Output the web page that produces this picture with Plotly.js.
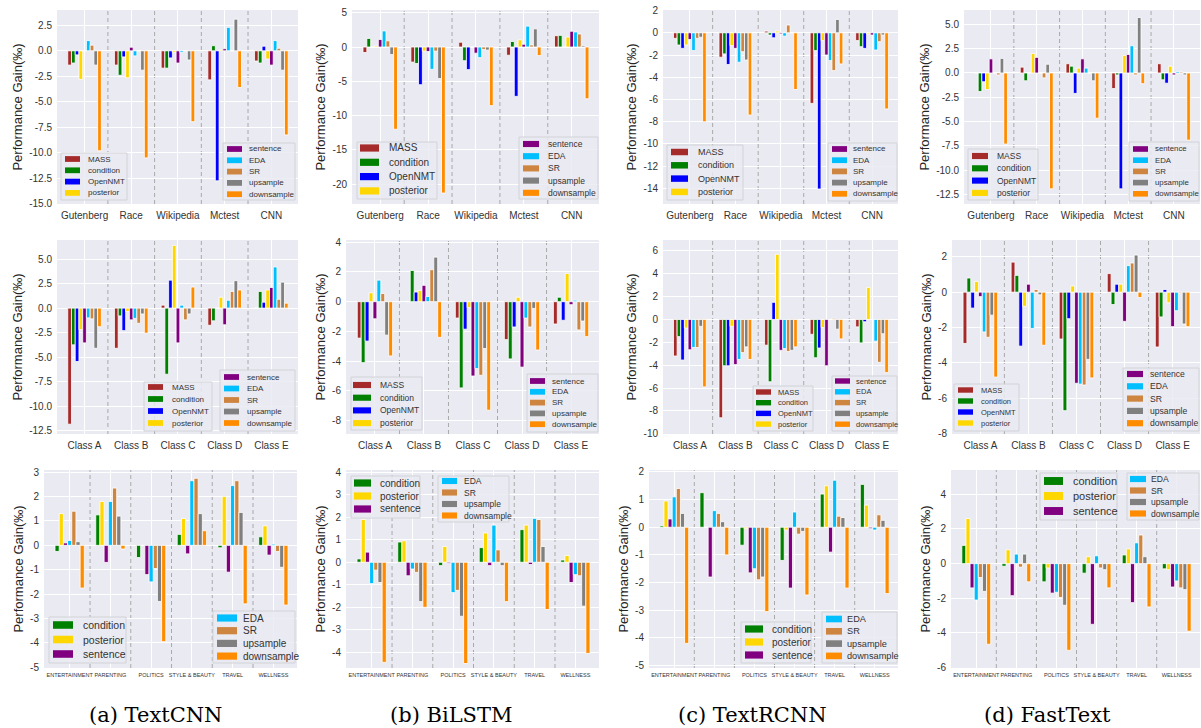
<!DOCTYPE html>
<html><head><meta charset="utf-8">
<script src="https://cdn.plot.ly/plotly-3.0.1.min.js"></script>
<style>html,body{margin:0;padding:0;background:#fff}#chart{width:1201px;height:728px}</style>
</head><body><div id="chart"></div>
<script>
// ---------- series, categories, colours ----------
const seriesAll  = ['MASS','condition','OpenNMT','posterior','sentence','EDA','SR','upsample','downsample'];
const seriesNews = ['condition','posterior','sentence','EDA','SR','upsample','downsample'];
const legendLeftAll   = ['MASS','condition','OpenNMT','posterior'];
const legendRightAll  = ['sentence','EDA','SR','upsample','downsample'];
const legendLeftNews  = ['condition','posterior','sentence'];
const legendRightNews = ['EDA','SR','upsample','downsample'];
const colors = {MASS:'#A52A2A', condition:'#008000', OpenNMT:'#0000FF', posterior:'#FFD700',
  sentence:'#800080', EDA:'#00BFFF', SR:'#CD853F', upsample:'#808080', downsample:'#FF8C00'};

const catsQA    = ['Gutenberg','Race','Wikipedia','Mctest','CNN'];
const catsClass = ['Class A','Class B','Class C','Class D','Class E'];
const catsNews  = ['ENTERTAINMENT','PARENTING','POLITICS','STYLE & BEAUTY','TRAVEL','WELLNESS'];
const captions  = ['(a) TextCNN','(b) BiLSTM','(c) TextRCNN','(d) FastText'];
const yTitle = 'Performance Gain(‰)';

// ---------- values (rows = series in order, columns = categories) ----------
const textCNN_QA = [
  [-1.4,-1.4,-1.7,-2.85,-1.0],
  [-1.2,-2.4,-1.7,0.5,-1.2],
  [-0.4,-0.6,-0.7,-12.75,0.45],
  [-2.8,-2.65,-0.15,0.1,-0.8],
  [0,0.35,-1.2,0.2,-1.4],
  [1.0,-0.5,-0.15,2.3,1.0],
  [0.55,0,0,0,0.25],
  [-1.4,-1.9,-0.9,3.1,-1.9],
  [-9.8,-10.5,-6.95,-3.6,-8.25]];
const biLSTM_QA = [
  [-0.8,-2.2,0.7,-1.2,1.65],
  [1.25,-2.4,-2.0,0.8,1.7],
  [0,-5.5,-3.3,-7.2,0],
  [0.15,-0.6,0,1.05,1.45],
  [1.1,-0.65,-0.9,0.4,2.3],
  [2.35,-3.25,-1.55,3.05,2.2],
  [0.9,-0.6,-0.35,0.3,1.9],
  [-1.1,-4.6,-0.45,2.65,0.2],
  [-12.0,-21.3,-8.55,-1.25,-7.55]];
const textRCNN_QA = [
  [-0.5,-2.2,0.15,-6.35,-0.7],
  [-1.1,-1.9,-0.2,-1.6,-1.25],
  [-1.4,-2.85,-0.45,-14.05,-1.4],
  [-1.1,-1.15,0.15,-0.7,-0.1],
  [-0.6,-1.4,-0.1,-2.0,-0.2],
  [-1.6,-2.65,-0.3,-2.5,-1.55],
  [-0.5,-1.7,0.7,-3.4,-0.8],
  [-0.4,-2.45,0,1.2,-0.2],
  [-8.0,-7.4,-5.1,-2.8,-6.85]];
const fastText_QA = [
  [0,0.6,0.95,-1.6,0.95],
  [-1.9,-0.8,0.7,-0.2,-0.7],
  [-0.9,0,-2.1,-11.9,-1.05],
  [-1.7,2.0,0.5,1.8,0.7],
  [1.45,1.6,1.45,1.9,-0.2],
  [0,0,0.5,2.8,0.15],
  [-0.2,-0.5,0,-0.2,0.1],
  [1.5,0.9,-0.8,5.7,-0.2],
  [-7.3,-11.9,-4.65,-1.1,-6.9]];
const textCNN_Class = [
  [-11.85,-4.1,0.3,-1.75,0],
  [-3.75,-0.8,-6.75,-1.3,1.7],
  [-5.45,-2.3,2.85,0,0.6],
  [-2.2,-0.35,6.4,1.1,1.85],
  [-3.55,-1.2,-3.55,-1.7,2.1],
  [-1.0,-1.05,0.3,0.8,4.2],
  [-1.1,-1.55,-1.2,1.7,0.9],
  [-4.1,-0.6,-0.6,2.8,2.65],
  [-1.9,-2.55,2.15,1.85,0.5]];
const biLSTM_Class = [
  [-2.45,0,-1.1,-2.55,-1.5],
  [-4.1,2.1,-5.8,-3.85,0.3],
  [-2.65,0.65,-1.85,-1.7,-1.25],
  [0.6,0.75,-0.4,0.3,1.9],
  [-1.15,1.1,-5.0,-4.4,-0.2],
  [1.45,0.35,-4.5,-1.1,0.1],
  [0.55,2.15,-4.95,-1.7,-1.9],
  [-2.25,3.0,-3.15,-0.45,-1.3],
  [-3.65,-2.4,-7.3,-3.25,-2.35]];
const textRCNN_Class = [
  [-3.2,-8.6,-2.25,-1.3,-0.65],
  [-1.5,-4.05,-5.45,-3.35,-2.05],
  [-3.55,-4.05,1.5,-2.5,-0.2],
  [-0.75,-0.6,5.7,-0.7,2.8],
  [-2.65,-3.95,-2.7,-4.05,0],
  [-2.45,-3.5,-2.55,0,-1.9],
  [-2.45,-2.9,-2.8,0.1,-3.75],
  [-0.6,-2.4,-2.7,-0.85,-1.25],
  [-5.9,-3.5,-2.4,-1.7,-4.65]];
const fastText_Class = [
  [-2.9,1.7,-2.65,1.05,-3.1],
  [0.8,0.95,-6.7,-0.7,-1.4],
  [-0.9,-3.05,-1.5,0.45,0.15],
  [0.6,-0.8,0.35,0.45,-0.6],
  [-0.25,0.45,-5.15,-1.65,-1.95],
  [-2.25,-2.05,-5.2,1.5,-1.05],
  [-2.55,0.15,-5.25,1.65,-0.05],
  [-1.3,-0.15,-3.8,2.1,-1.8],
  [-4.8,-3.0,-4.85,-0.3,-1.95]];
const textCNN_News = [
  [-0.25,1.25,-0.5,0.45,-0.1,0.35],
  [1.3,1.8,0,1.1,2.0,0.8],
  [0.1,-0.7,-1.2,-0.35,-1.1,-0.4],
  [0.2,1.8,-1.5,2.65,2.45,0.05],
  [1.4,2.35,-0.95,2.75,2.65,-0.25],
  [0.15,1.2,-2.3,1.3,1.35,-0.9],
  [-1.75,-0.15,-3.95,0.6,-2.4,-2.45]];
const biLSTM_News = [
  [0.15,0.9,-0.15,0.65,1.45,0.1],
  [1.9,0.95,0.7,1.3,1.65,0.3],
  [0.45,-0.6,-0.05,-0.15,-0.1,-0.9],
  [-0.95,-0.3,-1.35,1.65,1.95,-0.55],
  [-0.35,-0.45,-1.25,0.55,1.9,-0.6],
  [-0.9,-1.75,-2.4,-0.15,0.7,-1.95],
  [-4.45,-2.0,-4.5,-1.75,-2.1,-4.05]];
const textRCNN_News = [
  [0.05,1.25,-0.65,-1.2,1.2,1.55],
  [0.95,0,-0.05,-0.1,1.5,0.8],
  [0.3,-1.8,-1.65,-2.2,-0.9,-0.05],
  [1.1,0.6,-1.5,0.55,1.7,-0.1],
  [1.4,0.5,-1.9,-0.25,0.4,0.45],
  [0.5,0.2,-1.8,-0.15,0.35,0.25],
  [-4.2,-1.0,-3.05,-2.45,-2.2,-2.4]];
const fastText_News = [
  [1.05,-0.15,-1.05,-0.55,0.5,-0.3],
  [2.6,0.8,-0.25,0.4,0.85,-0.35],
  [-1.4,-1.85,-1.7,-3.5,-2.25,-1.35],
  [-2.1,0.55,-1.65,0.45,1.2,-1.0],
  [-0.8,-0.2,-1.95,-0.25,1.65,-1.4],
  [-1.6,0.55,-2.4,-0.35,0.4,-1.5],
  [-4.65,-1.05,-5.0,-1.4,-2.5,-3.9]];

// ---------- layout helpers ----------
const W = 1201, H = 728;
const FONT = 'Liberation Sans, Arial, sans-serif';
const px = v => v / W, py = v => 1 - v / H;

// panel layout: x/y domains in pixels, y range, tick step, decimals, legends
// legend spec: [left, top, right, bottom, firstRowY, rowStep, swatchX, swatchW, textX, fontSize]
const panels = [
  {data:textCNN_QA, cats:catsQA, ser:seriesAll, xd:[57,298], yd:[10,204], yr:[-15.02,4.0], dt:2.5, dec:1,
   lg:[[61,153,127,200,159,11.3,65,15,87,8],[223,143,295,200,149,11.3,227,15,248,8]]},
  {data:biLSTM_QA, cats:catsQA, ser:seriesAll, xd:[352,599], yd:[10,204], yr:[-22.9,5.4], dt:5, dec:0,
   lg:[[357,142,437,199,148,14.3,360,19,388,10],[519,137,598,199,144,12.2,523,16,547,8.5]]},
  {data:textRCNN_QA, cats:catsQA, ser:seriesAll, xd:[663,898], yd:[10,204], yr:[-15.4,2.05], dt:2, dec:0,
   lg:[[667,145,743,200,152,13.3,671,17,697,9],[828,143,897,201,149,11.2,832,15,852,8]]},
  {data:fastText_QA, cats:catsQA, ser:seriesAll, xd:[964,1200], yd:[10,204], yr:[-13.46,6.47], dt:2.5, dec:1,
   lg:[[968,149,1038,200,156,12.3,972,16,996,8.5],[1129,142,1199,201,149,11.2,1133,15,1154,7.8]]},
  {data:textCNN_Class, cats:catsClass, ser:seriesAll, xd:[57,298], yd:[240,434], yr:[-12.85,6.95], dt:2.5, dec:1,
   lg:[[144,382,212,431,387,12,148,15,171,8],[220,370,295,431,377,11.5,224,15,246,8]]},
  {data:biLSTM_Class, cats:catsClass, ser:seriesAll, xd:[346,599], yd:[240,434], yr:[-8.9,4.15], dt:2, dec:0,
   lg:[[351,377,422,430,385,12.7,353,18,379,8.5],[527,374,598,432,381,10.8,530,15,551,8]]},
  {data:textRCNN_Class, cats:catsClass, ser:seriesAll, xd:[663,898], yd:[240,434], yr:[-10.02,6.95], dt:2, dec:0,
   lg:[[753,386,813,431,392,10.7,756,15,777,7.5],[832,376,897,431,381,10.8,835,15,855,7.5]]},
  {data:fastText_Class, cats:catsClass, ser:seriesAll, xd:[952,1200], yd:[240,434], yr:[-8.02,2.95], dt:2, dec:0,
   lg:[[954,384,1019,431,390,11,958,15,980,7.5],[1123,368,1199,431,374,12.3,1127,16,1149,8.6]]},
  {data:textCNN_News, cats:catsNews, ser:seriesNews, xd:[44,297], yd:[470,668], yr:[-5.03,3.09], dt:1, dec:0,
   lg:[[49,617,126,663,625,14.5,53,20,82,10.5],[213,611,295,663,618,12.7,217,20,242,10]]},
  {data:biLSTM_News, cats:catsNews, ser:seriesNews, xd:[346,599], yd:[470,668], yr:[-4.7,4.1], dt:1, dec:0,
   lg:[[351,476,420,518,483,13,354,17,379,10],[438,476,509,522,481,11.5,442,15,463,8.5]]},
  {data:textRCNN_News, cats:catsNews, ser:seriesNews, xd:[649,898], yd:[470,668], yr:[-5.09,2.07], dt:1, dec:0,
   lg:[[741,622,811,663,629,13,745,18,771,10],[822,612,897,663,619,12.3,826,16,846,9.2]]},
  {data:fastText_News, cats:catsNews, ser:seriesNews, xd:[951,1200], yd:[470,668], yr:[-6.02,5.4], dt:2, dec:0,
   lg:[[1040,473,1117,520,481,15,1044,19,1072,11],[1127,473,1199,520,479,11.5,1130,16,1150,8.6]]}
];

const traces = [], shapes = [], annotations = [];
const layout = {
  width: W, height: H, margin:{l:0,r:0,t:0,b:0},
  paper_bgcolor:'#ffffff', plot_bgcolor:'#EAEAF2',
  barmode:'group', bargap:0.28, bargroupgap:0, showlegend:false,
  font:{family:FONT, color:'#333333'}
};

function addLegend(L, names){
  const [l,t,r,b,row0,step,swX,swW,tx,fs] = L;
  shapes.push({type:'rect', xref:'paper', yref:'paper', x0:px(l), x1:px(r), y0:py(b), y1:py(t),
    fillcolor:'rgba(234,234,242,0.85)', line:{color:'#d2d2d8', width:1}, layer:'above'});
  const hh = fs * 0.36;
  names.forEach((n,i) => {
    const yc = row0 + i*step;
    shapes.push({type:'rect', xref:'paper', yref:'paper', x0:px(swX), x1:px(swX+swW), y0:py(yc+hh), y1:py(yc-hh),
      fillcolor:colors[n], line:{width:0}, layer:'above'});
    annotations.push({xref:'paper', yref:'paper', x:px(tx-1), y:py(yc), xanchor:'left', yanchor:'middle',
      text:n, showarrow:false, font:{size:fs, color:'#333333', family:FONT}});
  });
}

panels.forEach((p, i) => {
  const k = i + 1, sx = k === 1 ? '' : String(k);
  const n = p.cats.length;
  p.ser.forEach((s, j) => {
    traces.push({type:'bar', name:s, x:p.cats, y:p.data[j], xaxis:'x'+sx, yaxis:'y'+sx,
      marker:{color:colors[s], line:{color:'#ffffff', width:0.8}}, showlegend:false,
      hovertemplate:'%{x}<br>'+s+': %{y}<extra></extra>'});
  });
  const isNews = n === 6;
  const tv = [], tt = [];
  for (let v = Math.ceil(p.yr[0]/p.dt - 1e-9)*p.dt; v <= p.yr[1] + 1e-9; v += p.dt) {
    const r = Math.round(v*100)/100;
    tv.push(r); tt.push((r === 0 ? 0 : r).toFixed(p.dec));
  }
  layout['xaxis'+sx] = {
    domain:[px(p.xd[0]), px(p.xd[1])], anchor:'y'+sx, type:'category',
    range: isNews ? [-0.63, n - 0.42] : [-0.59, n - 0.43],
    showgrid:true, gridcolor:'#ffffff', gridwidth:1, zeroline:false, showline:false,
    ticks:'', tickangle:0, ticklabelstandoff: isNews ? 2 : 4,
    tickfont:{size: isNews ? 5.5 : 10, color:'#333333', family:FONT}, fixedrange:true
  };
  layout['yaxis'+sx] = {
    domain:[py(p.yd[1]), py(p.yd[0])], anchor:'x'+sx, range:p.yr,
    tickmode:'array', tickvals:tv, ticktext:tt,
    showgrid:true, gridcolor:'#ffffff', gridwidth:1, zeroline:false, showline:false,
    ticks:'', ticklabelstandoff:4, tickfont:{size:10, color:'#333333', family:FONT},
    title:{text:yTitle, font:{size:13, color:'#262626', family:FONT}, standoff:3}, fixedrange:true
  };
  for (let c = 0; c < n - 1; c++) {
    shapes.push({type:'line', xref:'x'+sx, yref:'paper', x0:c+0.5, x1:c+0.5,
      y0:py(p.yd[1]), y1:py(p.yd[0]),
      line:{color:'#a9a9a9', width:1, dash:'4px,3px'}, layer:'below'});
  }
  addLegend(p.lg[0], isNews ? legendLeftNews : legendLeftAll);
  addLegend(p.lg[1], isNews ? legendRightNews : legendRightAll);
});

const capX = [156, 451, 752, 1047];
captions.forEach((c, i) => {
  annotations.push({xref:'paper', yref:'paper', x:px(capX[i]), y:py(715), xanchor:'center', yanchor:'middle',
    text:c, showarrow:false, font:{size:21, color:'#000000', family:'DejaVu Serif, Liberation Serif, serif'}});
});

layout.shapes = shapes;
layout.annotations = annotations;
Plotly.newPlot('chart', traces, layout, {displayModeBar:false, staticPlot:true});
</script>
</body></html>
